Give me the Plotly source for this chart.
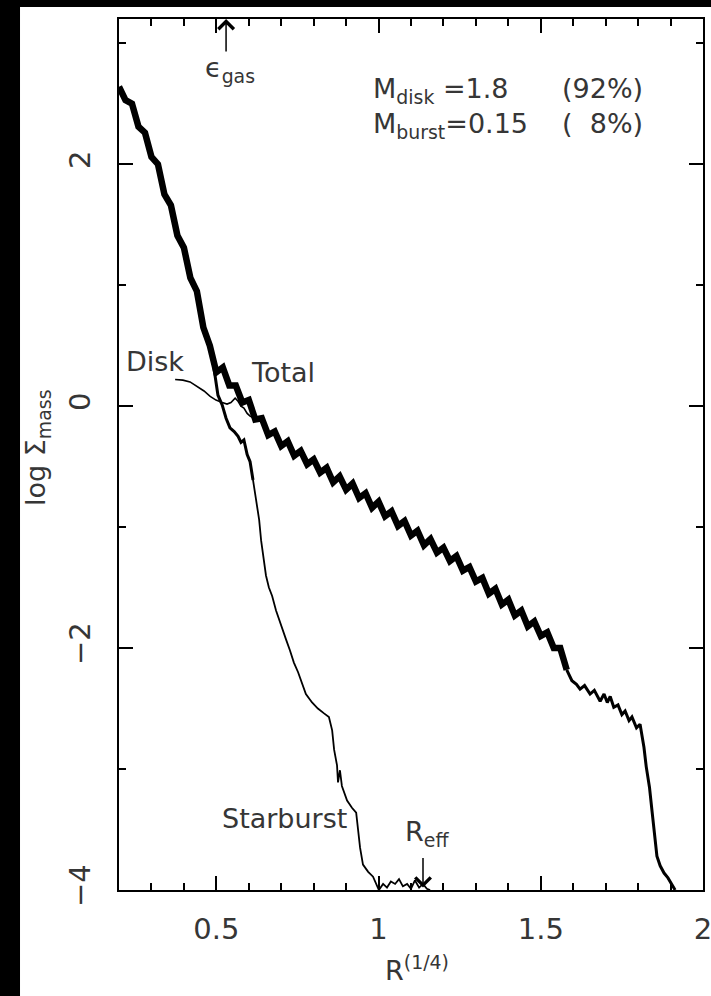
import plotly.graph_objects as go

# Total surface-mass profile: log Sigma_mass against R^(1/4)
total_r = [0.20, 0.22, 0.24, 0.26, 0.28, 0.30, 0.32, 0.34, 0.36, 0.38,
           0.40, 0.42, 0.44, 0.46, 0.48, 0.50, 0.52, 0.54, 0.56, 0.58,
           0.60, 0.62, 0.64, 0.66, 0.68, 0.70, 0.72, 0.74, 0.76, 0.78,
           0.80, 0.82, 0.84, 0.86, 0.88, 0.90, 0.92, 0.94, 0.96, 0.98,
           1.00, 1.02, 1.04, 1.06, 1.08, 1.10, 1.12, 1.14, 1.16, 1.18,
           1.20, 1.22, 1.24, 1.26, 1.28, 1.30, 1.32, 1.34, 1.36, 1.38,
           1.40, 1.42, 1.44, 1.46, 1.48, 1.50, 1.52, 1.54, 1.56, 1.58,
           1.596, 1.610, 1.621, 1.635, 1.652, 1.665, 1.683, 1.695, 1.705, 1.714,
           1.725, 1.738, 1.750, 1.760, 1.772, 1.781, 1.795, 1.806, 1.818, 1.825,
           1.835, 1.843, 1.850, 1.858, 1.868, 1.880, 1.892, 1.905, 1.914]
total_s = [2.64, 2.53, 2.50, 2.31, 2.26, 2.06, 2.00, 1.75, 1.66, 1.41,
           1.31, 1.06, 0.95, 0.65, 0.50, 0.28, 0.32, 0.17, 0.17, 0.03,
           0.05, -0.11, -0.10, -0.24, -0.21, -0.33, -0.29, -0.41, -0.37, -0.48,
           -0.44, -0.55, -0.51, -0.63, -0.58, -0.69, -0.64, -0.76, -0.72, -0.84,
           -0.79, -0.91, -0.87, -0.99, -0.95, -1.07, -1.03, -1.15, -1.10, -1.21,
           -1.17, -1.28, -1.24, -1.36, -1.33, -1.45, -1.42, -1.55, -1.51, -1.64,
           -1.60, -1.73, -1.69, -1.82, -1.78, -1.90, -1.87, -2.00, -2.00, -2.18,
           -2.27, -2.30, -2.34, -2.31, -2.38, -2.35, -2.44, -2.38, -2.45, -2.40,
           -2.49, -2.47, -2.55, -2.52, -2.60, -2.57, -2.66, -2.63, -2.82, -2.98,
           -3.15, -3.35, -3.50, -3.72, -3.80, -3.86, -3.90, -3.96, -4.00]

# Disk component (visible part before it merges with the total)
disk_r = [0.373, 0.397, 0.419, 0.440, 0.462, 0.481, 0.499, 0.518, 0.533, 0.545,
          0.558, 0.567, 0.576, 0.585, 0.595, 0.604, 0.616, 0.628]
disk_s = [0.22, 0.215, 0.20, 0.165, 0.125, 0.08, 0.05, 0.03, 0.017, 0.03,
          0.065, 0.04, 0.0, -0.017, -0.06, -0.083, -0.10, -0.116]

# Starburst component (beyond the point where it leaves the total)
burst_r = [0.490, 0.499, 0.505, 0.518, 0.530, 0.542, 0.555, 0.567, 0.576, 0.585,
           0.595, 0.604, 0.613, 0.622, 0.632, 0.638, 0.644, 0.653, 0.662, 0.672,
           0.684, 0.696, 0.706, 0.715, 0.727, 0.739, 0.752, 0.764, 0.776, 0.795,
           0.813, 0.832, 0.847, 0.857, 0.863, 0.872, 0.875, 0.881, 0.887, 0.903,
           0.918, 0.931, 0.937, 0.943, 0.952, 0.968, 0.983, 0.992, 1.001, 1.014,
           1.026, 1.038, 1.051, 1.063, 1.075, 1.088, 1.100, 1.112, 1.125, 1.137,
           1.149, 1.159]
burst_s = [0.36, 0.21, 0.09, 0.01, -0.10, -0.18, -0.21, -0.25, -0.30, -0.28,
           -0.40, -0.46, -0.61, -0.78, -0.94, -1.11, -1.23, -1.40, -1.50, -1.57,
           -1.69, -1.79, -1.87, -1.93, -2.02, -2.12, -2.20, -2.29, -2.38, -2.45,
           -2.50, -2.54, -2.57, -2.68, -2.84, -2.97, -3.11, -3.01, -3.14, -3.26,
           -3.32, -3.36, -3.50, -3.65, -3.79, -3.85, -3.89, -3.95, -4.00, -3.95,
           -3.98, -3.93, -3.95, -3.91, -3.97, -3.95, -3.99, -3.92, -3.98, -3.95,
           -3.99, -4.00]

x_ticks = [0.5, 1, 1.5, 2]
x_tick_text = ["0.5", "1", "1.5", "2"]
y_ticks = [-4, -2, 0, 2]
y_tick_text = ["\u22124", "\u22122", "0", "2"]

eps_gas_r = 0.53     # gas softening length marker
r_eff = 1.137        # effective radius marker

INK = "#363636"
FONT = "DejaVu Sans"
FS = 27

fig = go.Figure()

# thick noisy total out to ~1.58, thinner beyond
split = 70
fig.add_trace(go.Scatter(x=total_r[:split], y=total_s[:split], mode="lines",
                         line=dict(color="black", width=6.5), hoverinfo="skip"))
fig.add_trace(go.Scatter(x=total_r[split - 1:], y=total_s[split - 1:], mode="lines",
                         line=dict(color="black", width=3), hoverinfo="skip"))
fig.add_trace(go.Scatter(x=disk_r, y=disk_s, mode="lines",
                         line=dict(color="black", width=1.6), hoverinfo="skip"))
bsplit = 13
fig.add_trace(go.Scatter(x=burst_r[:bsplit], y=burst_s[:bsplit], mode="lines",
                         line=dict(color="black", width=3), hoverinfo="skip"))
fig.add_trace(go.Scatter(x=burst_r[bsplit - 1:], y=burst_s[bsplit - 1:], mode="lines",
                         line=dict(color="black", width=1.8), hoverinfo="skip"))

axis_common = dict(
    showgrid=False, zeroline=False, showline=True, linecolor="black", linewidth=2,
    mirror="ticks", ticks="inside", ticklen=14, tickwidth=2, tickcolor="black",
    tickfont=dict(family=FONT, size=29, color=INK), automargin=False,
    ticklabeloverflow="allow",
)
fig.update_xaxes(range=[0.2, 2.0], tickmode="array", tickvals=x_ticks, ticktext=x_tick_text,
                 minor=dict(ticks="inside", ticklen=7, tickwidth=2, tickcolor="black",
                            dtick=0.1, tick0=0),
                 ticklabelstandoff=12, **axis_common)
fig.update_yaxes(range=[-4, 3.2], tickmode="array", tickvals=y_ticks, ticktext=y_tick_text,
                 tickangle=-90,
                 minor=dict(ticks="inside", ticklen=7, tickwidth=2, tickcolor="black",
                            dtick=1, tick0=0),
                 ticklabelstandoff=15, **axis_common)

txt = dict(family=FONT, size=FS, color=INK)
C = dict(xanchor="center", yanchor="middle", showarrow=False, font=txt)
ann = []
# curve labels
ann.append(dict(x=0.311, y=0.37, xref="x", yref="y", text="Disk", **C))
ann.append(dict(x=0.706, y=0.28, xref="x", yref="y", text="Total", **C))
ann.append(dict(x=0.709, y=-3.41, xref="x", yref="y", text="Starburst", **C))
# epsilon_gas arrow and label
ann.append(dict(x=eps_gas_r, y=3.2, xref="x", yref="y", text="", showarrow=True,
                ax=0, ay=34, arrowhead=4, arrowsize=2.0, arrowwidth=1.5, arrowcolor="black"))
ann.append(dict(x=0.459, y=2.78, xref="x", yref="y", xanchor="left", yanchor="middle",
                text="\u03f5<sub>gas</sub>", showarrow=False, font=txt))
# R_eff arrow and label
ann.append(dict(x=r_eff, y=-3.98, xref="x", yref="y", text="", showarrow=True,
                ax=0, ay=-31, arrowhead=4, arrowsize=2.0, arrowwidth=1.5, arrowcolor="black"))
ann.append(dict(x=1.075, y=-3.53, xref="x", yref="y", xanchor="left", yanchor="middle",
                text="R<sub>eff</sub>", showarrow=False, font=txt))
# mass summary
ann.append(dict(x=0.4315, y=0.940, xref="paper", yref="paper", xanchor="left", yanchor="top",
                text="M<sub>disk</sub> =1.8", showarrow=False, font=txt))
ann.append(dict(x=0.901, y=0.940, xref="paper", yref="paper", xanchor="right", yanchor="top",
                text="(92%)", showarrow=False, font=txt))
ann.append(dict(x=0.4315, y=0.900, xref="paper", yref="paper", xanchor="left", yanchor="top",
                text="M<sub>burst</sub>=0.15", showarrow=False, font=txt))
ann.append(dict(x=0.901, y=0.900, xref="paper", yref="paper", xanchor="right", yanchor="top",
                text="(\u00a0\u00a08%)", showarrow=False, font=txt))
# axis titles
ann.append(dict(x=0.510, y=-0.0897, xref="paper", yref="paper",
                text="R<sup>(1/4)</sup>", **C))
ann.append(dict(x=-0.1387, y=0.5075, xref="paper", yref="paper", textangle=-90,
                text="log \u03a3<sub>mass</sub>", **C))

# dark frame strips along the left and top edges of the page
shapes = [
    dict(type="rect", xref="paper", yref="paper", x0=-0.2038, x1=-0.1695, y0=-0.13, y1=1.03,
         fillcolor="black", line=dict(width=0), layer="below"),
    dict(type="rect", xref="paper", yref="paper", x0=-0.2038, x1=1.02, y0=1.0138, y1=1.03,
         fillcolor="black", line=dict(width=0), layer="below"),
]

fig.update_layout(
    template="none",
    width=711, height=996,
    margin=dict(l=119, r=8, t=19, b=106),
    paper_bgcolor="white", plot_bgcolor="white",
    showlegend=False, annotations=ann, shapes=shapes,
)

fig.write_html("out.html")
